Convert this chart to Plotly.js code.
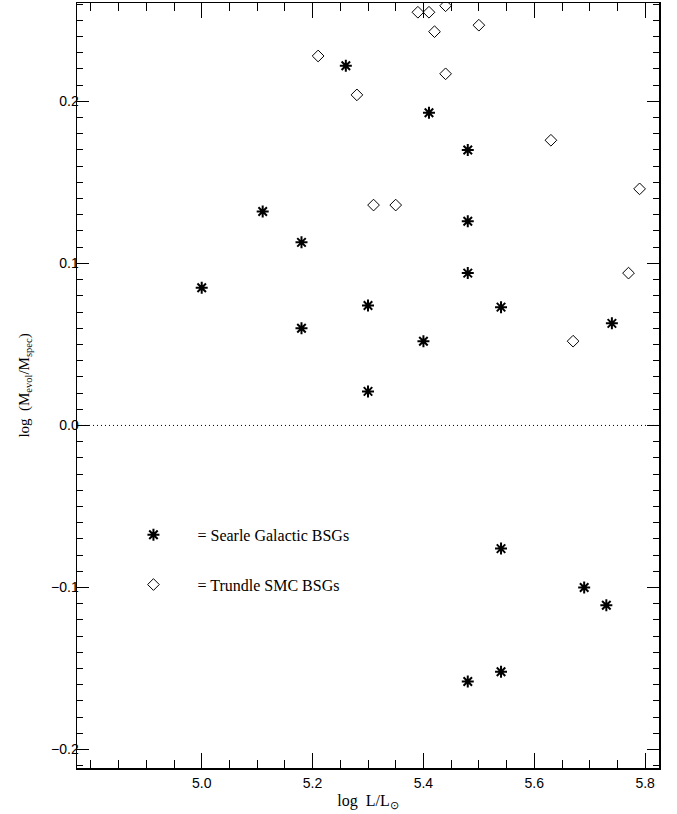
<!DOCTYPE html>
<html>
<head>
<meta charset="utf-8">
<script src="https://cdn.plot.ly/plotly-3.0.1.min.js"></script>
<style>html,body{margin:0;padding:0;background:#fff;}#chart{width:677px;height:814px;}</style>
</head>
<body>
<div id="chart"></div>
<script>
// Searle Galactic BSGs (asterisks)
const searleLogL = [5.00, 5.11, 5.18, 5.18, 5.26, 5.30, 5.30, 5.41, 5.40, 5.48, 5.48, 5.48, 5.54, 5.74, 5.54, 5.69, 5.73, 5.48, 5.54];
const searleRatio = [0.085, 0.132, 0.113, 0.060, 0.222, 0.074, 0.021, 0.193, 0.052, 0.170, 0.126, 0.094, 0.073, 0.063, -0.076, -0.100, -0.111, -0.158, -0.152];
// Trundle SMC BSGs (diamonds)
const trundleLogL = [5.21, 5.39, 5.41, 5.44, 5.42, 5.50, 5.44, 5.28, 5.63, 5.31, 5.35, 5.79, 5.77, 5.67];
const trundleRatio = [0.228, 0.255, 0.255, 0.259, 0.243, 0.247, 0.217, 0.204, 0.176, 0.136, 0.136, 0.146, 0.094, 0.052];

const pad = '\u00a0\u00a0\u00a0\u00a0\u00a0\u00a0';
const seriesNames = [pad + "= Searle Galactic BSGs", pad + "= Trundle SMC BSGs"];
const xTicks = [5.0, 5.2, 5.4, 5.6, 5.8];
const yTicks = [-0.2, -0.1, 0.0, 0.1, 0.2];

const traces = [
  {x: searleLogL, y: searleRatio, type: 'scatter', mode: 'markers', name: seriesNames[0], legendgroup: 'a',
   marker: {symbol: 'asterisk-open', size: 10, color: '#000', line: {color: '#000', width: 2}}},
  {x: trundleLogL, y: trundleRatio, type: 'scatter', mode: 'markers', name: seriesNames[1], legendgroup: 'b',
   marker: {symbol: 'diamond-open', size: 9, color: '#000', line: {color: '#000', width: 1}}}
];

const serif = 'Liberation Serif, Times New Roman, serif';
const axisCommon = {
  showline: true, linecolor: '#000', linewidth: 1.5, mirror: 'ticks',
  ticks: 'inside', tickcolor: '#000', tickwidth: 1, showgrid: false, zeroline: false,
  tickfont: {family: 'Liberation Sans, Arial, sans-serif', size: 14, color: '#000'}
};

const layout = {
  width: 677, height: 814,
  margin: {l: 77, r: 18, t: 3, b: 46},
  paper_bgcolor: '#fff', plot_bgcolor: '#fff',
  showlegend: true,
  legend: {x: 0.097, y: 0.327, xanchor: 'left', yanchor: 'top', bgcolor: 'rgba(0,0,0,0)',
           font: {family: serif, size: 16, color: '#000'},
           traceorder: 'grouped', tracegroupgap: 26},
  xaxis: Object.assign({}, axisCommon, {
    range: [4.775, 5.825], tickvals: xTicks, tickformat: '.1f', ticklen: 15,
    minor: {dtick: 0.05, ticklen: 8, ticks: 'inside', tickcolor: '#000', tickwidth: 1, tick0: 5.0},
    ticklabelstandoff: 2,
    title: {text: 'log\u00a0\u00a0L/L<sub>⊙</sub>', font: {family: serif, size: 16, color: '#000'}, standoff: 4}
  }),
  yaxis: Object.assign({}, axisCommon, {
    range: [-0.2114, 0.2607], tickvals: yTicks, tickformat: '.1f', ticklen: 12,
    minor: {dtick: 0.01, ticklen: 6, ticks: 'inside', tickcolor: '#000', tickwidth: 1, tick0: 0},
    ticklabelstandoff: -6,
    title: {text: 'log\u00a0\u00a0(M<sub>evol</sub>/M<sub>spec</sub>)', font: {family: serif, size: 15, color: '#000'}, standoff: 18}
  }),
  shapes: [
    {type: 'line', xref: 'paper', x0: 0, x1: 1, yref: 'y', y0: 0, y1: 0,
     line: {color: '#000', width: 1, dash: '1px,3px'}}
  ]
};

Plotly.newPlot('chart', traces, layout, {displayModeBar: false, staticPlot: true});
</script>
</body>
</html>
